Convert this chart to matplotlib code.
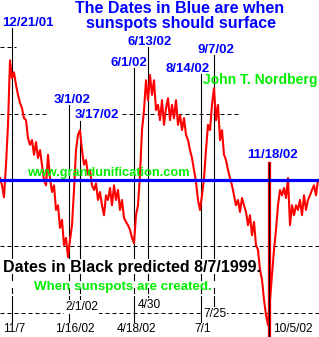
import numpy as np
import matplotlib.pyplot as plt

W, H = 319, 337

# curve: one reading every 2 bars, in grid units (0 = blue "surface" line)
level = [
    0.03, -0.08, -0.26, 0.23, 0.83, 1.80, 1.53, 1.62, 1.43, 1.28,
    1.16, 1.08, 0.93, 0.90, 0.63, 0.53, 0.60, 0.38, 0.57, 0.33,
    0.45, 0.23, 0.00, -0.08, 0.38, 0.03, -0.18, -0.08, -0.45, -0.38,
    -0.72, -0.60, -0.98, -0.87, -1.16, -0.90, -0.68, -0.15, 0.45, 0.68,
    0.75, 0.45, 0.23, 0.30, 0.08, 0.15, -0.08, -0.15, -0.05, -0.30,
    -0.18, -0.38, -0.53, -0.23, -0.30, -0.12, -0.38, -0.08, -0.30, -0.15,
    -0.45, -0.30, -0.57, -0.63, -0.68, -0.75, -0.87, -0.95, -0.53, -0.38,
    0.08, 0.75, 1.05, 1.50, 1.20, 1.58, 1.28, 1.50, 1.05, 1.13,
    0.90, 1.20, 0.83, 1.08, 1.23, 0.90, 1.13, 0.93, 1.20, 0.83,
    0.98, 0.75, 0.93, 0.68, 0.60, 0.45, 0.33, 0.15, -0.03, -0.30,
    -0.45, -0.23, 0.03, 0.45, 0.83, 0.75, 1.13, 1.38, 0.90, 1.13,
    0.60, 0.75, 0.38, 0.30, 0.15, 0.03, -0.08, -0.23, -0.38, -0.30,
    -0.48, -0.27, -0.38, -0.48, -0.68, -0.53, -0.83, -0.63, -0.98, -1.05,
    -1.35, -1.50, -1.80, -2.03, -2.18, -1.80, -1.43, -1.05, -0.75, -0.38,
    -0.15, -0.23, -0.12, -0.27, 0.03, -0.68, -0.38, -0.53, -0.38, -0.45,
    -0.30, -0.53, -0.23, -0.45, -0.30, -0.23, -0.15, -0.08, -0.23, 0.00,
]
bars = np.arange(0, 2 * len(level), 2)

# event positions (bar index), surfacing dates in blue, predicted in black
event_x = [11.7, 69, 80, 134, 148, 201, 214, 269]
blue_dates = ["12/21/01", "3/1/02", "3/17/02", "6/1/02", "6/13/02",
              "8/14/02", "9/7/02", "11/18/02"]
black_dates = ["11/7", "1/16/02", "2/1/02", "4/18/02", "4/30",
               "7/1", "7/25", "10/5/02"]

grid_levels = [2, 1, -1, -2]

RED = "#ff0000"
BLUE = "#0000ff"
GREEN = "#00ee00"
FONT = "Liberation Sans"


def fy(py):
    # pixel row -> axes fraction
    return 1 - py / H


def fx(px):
    return px / W


fig = plt.figure(figsize=(W / 100, H / 100), dpi=100)
ax = fig.add_axes([0, 0, 1, 1])
ax.set_xlim(0, W)
ax.set_ylim(-2.361, 2.707)
ax.axis("off")

# dashed guide lines (partly erased in the original)
dash = dict(color="black", lw=0.72, dashes=(4, 3), zorder=1)
grid_spans = {2: [(0, 16)], 1: [(0, 48), (122, 240)], -1: [(0, W)], -2: [(0, W)]}
for g in grid_levels:
    for a, b in grid_spans[g]:
        ax.axhline(g, fx(a), fx(b), **dash)

# vertical event lines: top (below blue label) and bottom end, in pixel rows
line_top = [28, 105, 121, 68, 47, 74, 55, 163]
line_bot = [322, 322, 299, 322, 298, 322, 307, 337]
for x, top, bot in zip(event_x[:-1], line_top[:-1], line_bot[:-1]):
    ax.axvline(x, fy(258), fy(top), color="black", lw=0.8, zorder=2)
    ax.axvline(x, fy(280), fy(274), color="black", lw=0.8, zorder=2)
    ax.axvline(x, fy(293), fy(288), color="black", lw=0.8, zorder=2)
    ax.axvline(x, fy(bot), fy(296), color="black", lw=0.8, zorder=2)
# 11/18/02 marker: red bar with black core
ax.axvline(event_x[-1], fy(line_bot[-1]), fy(line_top[-1]), color=RED, lw=2.4, zorder=4)
ax.axvline(event_x[-1], fy(line_bot[-1]), fy(line_top[-1]), color="black", lw=0.8, zorder=5)

ax.plot(bars, level, color=RED, lw=1.5, zorder=3)
ax.axhline(0, color=BLUE, lw=2.3, zorder=4)

# titles
ax.text(fx(180), fy(13), "The Dates in Blue are when", transform=ax.transAxes,
        ha="center", va="baseline", color=BLUE, fontsize=11.5,
        fontweight="bold", family=FONT)
ax.text(fx(181), fy(28), "sunspots should surface", transform=ax.transAxes,
        ha="center", va="baseline", color=BLUE, fontsize=11.5,
        fontweight="bold", family=FONT)

# blue date labels: left edge and baseline
blue_pos = [(2, 26), (54, 103), (75, 118), (110, 66), (127, 45),
            (166, 72), (197, 53), (247, 158)]
for (px, py), s in zip(blue_pos, blue_dates):
    ax.text(fx(px), fy(py), s, transform=ax.transAxes, ha="left",
            va="baseline", color=BLUE, fontsize=9.5, fontweight="bold",
            family=FONT, zorder=6)

black_pos = [(3, 332), (55, 332), (65, 310), (117, 332), (138, 308),
             (194, 332), (203, 317), (273, 332)]
for (px, py), s in zip(black_pos, black_dates):
    boxed = py < 320
    ax.text(fx(px), fy(py), s, transform=ax.transAxes, ha="left",
            va="baseline", color="black", fontsize=8.6, family=FONT,
            zorder=6,
            bbox=dict(fc="white", ec="none", pad=0.5) if boxed else None)

ax.text(fx(203), fy(84), "John T. Nordberg", transform=ax.transAxes,
        ha="left", va="baseline", color=GREEN, fontsize=10,
        fontweight="bold", family=FONT, zorder=6)
ax.text(fx(27), fy(176), "www.grandunification.com", transform=ax.transAxes,
        ha="left", va="baseline", color=GREEN, fontsize=9.2,
        fontweight="bold", family=FONT, zorder=6)
ax.text(fx(3), fy(272), "Dates in Black predicted 8/7/1999.",
        transform=ax.transAxes, ha="left", va="baseline", color="black",
        fontsize=11.5, fontweight="bold", family=FONT, zorder=6)
ax.text(fx(34), fy(290), "When sunspots are created.", transform=ax.transAxes,
        ha="left", va="baseline", color=GREEN, fontsize=9.6,
        fontweight="bold", family=FONT, zorder=6)

fig.savefig("out.png", dpi=100)
